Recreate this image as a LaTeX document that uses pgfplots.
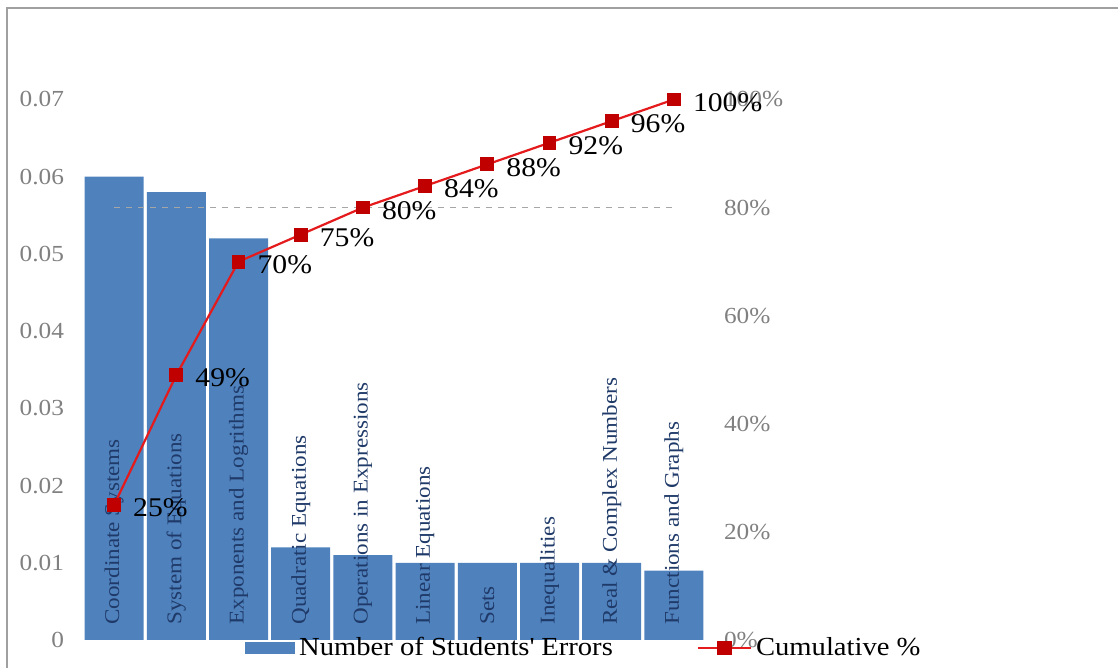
\documentclass[border=0pt]{standalone}
\usepackage{fontspec}
\setmainfont{Liberation Serif}[FakeStretch=1.1]
\usepackage{pgfplots}
\pgfplotsset{compat=1.18}

\definecolor{barblue}{HTML}{4F81BD}
\definecolor{linered}{HTML}{E41A1C}
\definecolor{markred}{HTML}{C00000}
\definecolor{labelnavy}{HTML}{1F3A68}
\definecolor{tickgray}{HTML}{808080}
\definecolor{framegray}{HTML}{A0A0A0}

\pgfplotsset{
  paretoframe/.style={
    at={(41.5pt,14pt)}, anchor=south west,
    scale only axis, width=311pt, height=270.25pt,
    xmin=-0.5, xmax=9.5,
    axis line style={draw=none}, tick style={draw=none},
    xtick=\empty, clip=false,
    scaled y ticks=false,
    yticklabel style={text=tickgray, font=\fontsize{11.5}{12}\selectfont},
  },
}

\begin{document}
\begin{tikzpicture}[x=1pt,y=1pt]
\useasboundingbox (0,0) rectangle (559,334);
\draw[framegray, line width=0.8pt] (3.5,-5) -- (3.5,330) -- (565,330);

% left axis: error share per topic
\begin{axis}[
  paretoframe,
  ymin=0, ymax=0.07,
  ytick={0,0.01,0.02,0.03,0.04,0.05,0.06,0.07},
  yticklabels={0,0.01,0.02,0.03,0.04,0.05,0.06,0.07},
  yticklabel style={xshift=-6pt},
]
\addplot[ybar, bar width=29.5pt, fill=barblue, draw=none]
  coordinates {(0,0.060) (1,0.058) (2,0.052) (3,0.012) (4,0.011)
               (5,0.010) (6,0.010) (7,0.010) (8,0.010) (9,0.009)};
\addplot[draw=none, mark=none, nodes near coords, point meta=explicit symbolic,
  nodes near coords style={yshift=7.5pt, rotate=90, anchor=west, inner sep=0pt,
    text=labelnavy, font=\fontsize{10.5}{11}\selectfont}]
  coordinates {(0,0)[Coordinate Systems] (1,0)[System of Equations]
               (2,0)[Exponents and Logrithms] (3,0)[Quadratic Equations]
               (4,0)[Operations in Expressions] (5,0)[Linear Equations]
               (6,0)[Sets] (7,0)[Inequalities] (8,0)[Real \& Complex Numbers]
               (9,0)[Functions and Graphs]};
\end{axis}

% right axis: cumulative percentage
\begin{axis}[
  paretoframe,
  ymin=0, ymax=100,
  ytick={0,20,40,60,80,100},
  yticklabels={0\%,20\%,40\%,60\%,80\%,100\%},
  yticklabel pos=right,
  yticklabel style={xshift=6pt},
  legend columns=2,
  legend cell align=left,
  legend style={at={(axis description cs:0.2605,-0.0148)}, anchor=west,
    draw=none, fill=none, inner sep=0pt,
    font=\fontsize{13}{14}\selectfont,
    /tikz/every even column/.append style={column sep=40pt}},
]
\addlegendimage{legend image code/.code={\fill[barblue] (0pt,-2.6pt) rectangle (24.5pt,2.6pt);}}
\addlegendentry{Number of Students\textquotesingle\ Errors}
\addplot[gray!70, dashed, line width=0.6pt, forget plot] coordinates {(0,80) (9,80)};
\addplot[linered, line width=1.1pt, mark=square*, mark size=2.9pt,
  mark options={draw=markred, fill=markred},
  legend image code/.code={\draw[linered, line width=1.1pt] (0pt,0pt) -- (26.5pt,0pt);
    \fill[markred] (10.25pt,-3pt) rectangle (16.25pt,3pt);},
  nodes near coords, point meta=explicit symbolic,
  nodes near coords style={anchor=west, xshift=9pt, yshift=-1.5pt, inner sep=0pt,
    text=black, font=\fontsize{13.5}{14}\selectfont}]
  coordinates {(0,25)[25\%] (1,49)[49\%] (2,70)[70\%] (3,75)[75\%] (4,80)[80\%]
               (5,84)[84\%] (6,88)[88\%] (7,92)[92\%] (8,96)[96\%] (9,100)[100\%]};
\addlegendentry{Cumulative \%}
\end{axis}
\end{tikzpicture}
\end{document}
